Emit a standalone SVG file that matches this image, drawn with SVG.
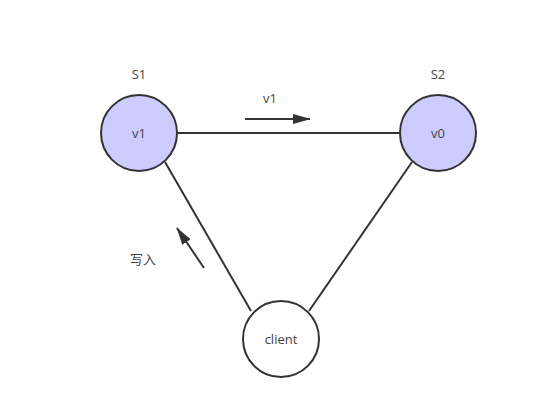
<svg xmlns="http://www.w3.org/2000/svg" width="560" height="413" viewBox="0 0 560 413">
<defs>
<style>
.node{stroke:#333;stroke-width:2}
.blue{fill:#ccccff}
.white{fill:#fff}
.t{font-family:"Open Sans","Noto Sans","Noto Sans CJK SC",sans-serif;font-size:13px;fill:#444;text-anchor:middle}
.edge{stroke:#333;stroke-width:2;fill:none}
</style>
<marker id="ah" viewBox="0 0 18 10" refX="17" refY="5" markerWidth="9" markerHeight="5" markerUnits="strokeWidth" orient="auto">
<path d="M0,0 L18,5 L0,10 z" fill="#333"/>
</marker>
</defs>
<rect width="560" height="413" fill="#fff"/>
<g id="connectors">
<line class="edge" x1="178" y1="133" x2="400" y2="133"/>
<line class="edge" x1="165" y1="162" x2="251" y2="311"/>
<line class="edge" x1="412" y1="162" x2="309" y2="311"/>
<line class="edge" x1="245" y1="119" x2="310" y2="119" marker-end="url(#ah)"/>
<line class="edge" x1="204" y1="268" x2="177" y2="228" marker-end="url(#ah)"/>
<text class="t" x="270" y="103">v1</text>
<text class="t" x="143" y="264">写入</text>
</g>
<g id="S1">
<circle class="node blue" cx="139" cy="133" r="38"/>
<text class="t" x="139" y="138">v1</text>
<text class="t" x="139" y="79">S1</text>
</g>
<g id="S2">
<circle class="node blue" cx="438" cy="133" r="38"/>
<text class="t" x="438" y="138">v0</text>
<text class="t" x="438" y="79">S2</text>
</g>
<g id="client">
<circle class="node white" cx="281" cy="339" r="38"/>
<text class="t" x="281" y="344">client</text>
</g>
</svg>
